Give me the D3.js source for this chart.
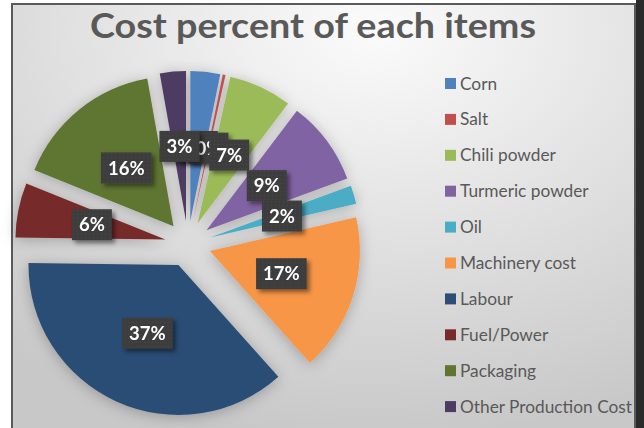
<!DOCTYPE html>
<html>
<head>
<meta charset="utf-8">
<script src="https://cdn.jsdelivr.net/npm/d3@7"></script>
<style>
  body { margin: 0; background: #ffffff; }
  svg { display: block; }
</style>
</head>
<body>
<script>
// Cost breakdown, in percent of the total
const categories = ["Corn", "Salt", "Chili powder", "Turmeric powder", "Oil",
  "Machinery cost", "Labour", "Fuel/Power", "Packaging", "Other Production Cost"];
const costShare = [3.2, 0.3, 6.8, 9.1, 2.0, 17.0, 36.8, 5.9, 16.1, 2.8];
const sliceColors = ["#4f81bd", "#c0504d", "#9bbb59", "#8064a2", "#4bacc6",
  "#f79646", "#2c4d75", "#772c2a", "#5f7530", "#4d3b62"];
const titleText = "Cost percent of each items";

const W = 644, H = 428;
const cx = 188, cy = 244, radius = 150, explode = 23, labelRadius = 98;

const svg = d3.select("body").append("svg").attr("width", W).attr("height", H);
const defs = svg.append("defs");

// chart area background
const bg = defs.append("radialGradient").attr("id", "bgGrad")
  .attr("cx", "58%").attr("cy", "6%").attr("r", "95%");
bg.append("stop").attr("offset", "0%").attr("stop-color", "#fbfbfb");
bg.append("stop").attr("offset", "45%").attr("stop-color", "#e4e4e4");
bg.append("stop").attr("offset", "100%").attr("stop-color", "#c8c8c8");

// soft shadow under the slices
const sh = defs.append("filter").attr("id", "sliceShadow")
  .attr("x", "-30%").attr("y", "-30%").attr("width", "160%").attr("height", "160%");
sh.append("feDropShadow").attr("dx", 0).attr("dy", 2).attr("stdDeviation", 7)
  .attr("flood-color", "#000").attr("flood-opacity", 0.25);

// shadow of the value boxes
const bs = defs.append("filter").attr("id", "boxShadow")
  .attr("x", "-30%").attr("y", "-30%").attr("width", "170%").attr("height", "170%");
bs.append("feDropShadow").attr("dx", 3).attr("dy", 3).attr("stdDeviation", 2)
  .attr("flood-color", "#000").attr("flood-opacity", 0.45);

// dotted fill of the value boxes
const pat = defs.append("pattern").attr("id", "boxDots")
  .attr("width", 4).attr("height", 4).attr("patternUnits", "userSpaceOnUse");
pat.append("rect").attr("width", 4).attr("height", 4).attr("fill", "#3c3c3c");
pat.append("rect").attr("x", 1).attr("y", 1).attr("width", 1).attr("height", 1).attr("fill", "#4c4c4c");

// frame
svg.append("rect").attr("x", 12).attr("y", 4).attr("width", 623).attr("height", 430)
  .attr("fill", "url(#bgGrad)").attr("stroke", "#5a5a5a").attr("stroke-width", 2);
svg.append("rect").attr("x", 636).attr("y", 0).attr("width", 8).attr("height", H).attr("fill", "#2a2a2a");

// title
svg.append("text").attr("x", 313).attr("y", 38).attr("text-anchor", "middle")
  .attr("font-family", "Lato, 'Open Sans', sans-serif").attr("font-weight", 700)
  .attr("font-size", 35).attr("fill", "#595959")
  .attr("textLength", 446).attr("lengthAdjust", "spacingAndGlyphs")
  .text(titleText);

// pie
const data = categories.map((c, i) => ({ name: c, value: costShare[i], color: sliceColors[i] }));
const total = d3.sum(costShare);
const pie = d3.pie().sort(null).value(d => d.value);
const arcs = pie(data);
const arc = d3.arc().innerRadius(0).outerRadius(radius);
const labelArc = d3.arc().innerRadius(labelRadius).outerRadius(labelRadius);

const mid = d => (d.startAngle + d.endAngle) / 2;

const pieG = svg.append("g").attr("transform", `translate(${cx},${cy})`)
  .attr("filter", "url(#sliceShadow)");
pieG.selectAll("path").data(arcs).join("path")
  .attr("transform", d => `translate(${explode * Math.sin(mid(d))},${-explode * Math.cos(mid(d))})`)
  .attr("d", arc)
  .attr("fill", d => d.data.color);

// value boxes (later boxes cover earlier ones where they meet)
const labG = svg.append("g").attr("transform", `translate(${cx},${cy})`);
arcs.forEach(d => {
  const [lx, ly] = labelArc.centroid(d);
  const g = labG.append("g").attr("transform", `translate(${lx},${ly})`);
  const box = g.append("rect").attr("fill", "url(#boxDots)").attr("filter", "url(#boxShadow)");
  const t = g.append("text").attr("text-anchor", "middle").attr("dy", "0.36em")
    .attr("font-family", "Lato, 'Open Sans', sans-serif").attr("font-weight", 700)
    .attr("font-size", 18.5).attr("fill", "#ffffff")
    .text(Math.round(d.data.value / total * 100) + "%");
  const tw = t.node().getComputedTextLength();
  const bw = tw + 14, bh = 31;
  box.attr("x", -bw / 2).attr("y", -bh / 2).attr("width", bw).attr("height", bh);
});

// legend
const leg = svg.append("g").selectAll("g").data(data).join("g")
  .attr("transform", (d, i) => `translate(445,${83.5 + i * 35.9})`);
leg.append("rect").attr("x", 0).attr("y", -5.5).attr("width", 11).attr("height", 11)
  .attr("fill", d => d.color);
leg.append("text").attr("x", 15).attr("dy", "0.35em")
  .attr("font-family", "Lato, 'Open Sans', sans-serif").attr("font-size", 17.3)
  .attr("fill", "#595959").text(d => d.name);
</script>
</body>
</html>
